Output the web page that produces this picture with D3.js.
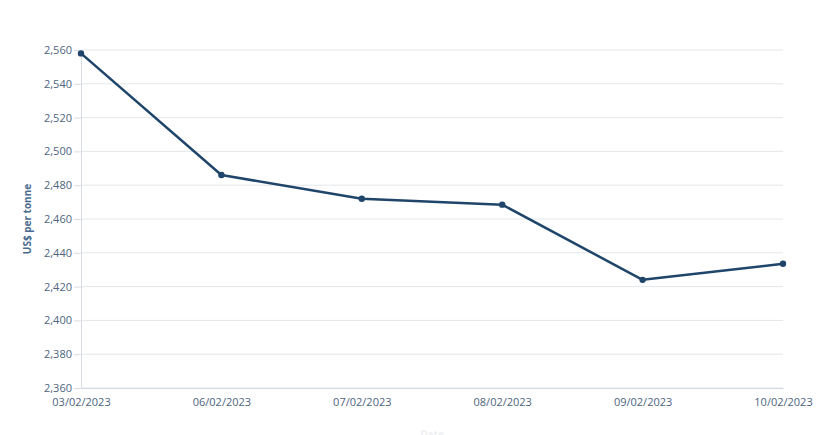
<!DOCTYPE html>
<html>
<head>
<meta charset="utf-8">
<script src="https://cdn.jsdelivr.net/npm/d3@7"></script>
<style>
  body { margin: 0; background: #fff; }
  text { font-family: "Open Sans", sans-serif; }
</style>
</head>
<body>
<div id="chart"></div>
<script>
var width = 824
var height = 435

// data
const dates = ["03/02/2023", "06/02/2023", "07/02/2023", "08/02/2023", "09/02/2023", "10/02/2023"];
const prices = [2558, 2486, 2472, 2468.5, 2424, 2433.5];
const yTicks = [2360, 2380, 2400, 2420, 2440, 2460, 2480, 2500, 2520, 2540, 2560];

const margin = {top: 50, right: 41, bottom: 47, left: 81}
const innerWidth = width - margin.left - margin.right;
const innerHeight = height - margin.top - margin.bottom;

var svg = d3.select("#chart").append("svg")
    .attr("width", width)
    .attr("height", height)

const g = svg.append("g")
    .attr("transform", `translate(${margin.left}, ${margin.top})`)

const xScale = d3.scalePoint()
    .domain(dates)
    .range([0, innerWidth]);

const yScale = d3.scaleLinear()
    .domain([2360, 2560])
    .range([innerHeight, 0]);

// horizontal grid
g.append("g")
    .selectAll("line")
    .data(yTicks)
    .join("line")
    .attr("x1", 0)
    .attr("x2", innerWidth)
    .attr("y1", d => yScale(d))
    .attr("y2", d => yScale(d))
    .attr("stroke", "#e3e6ea")
    .attr("stroke-width", 1);

const yAxis = d3.axisLeft(yScale)
    .tickValues(yTicks)
    .tickSize(7)
    .tickPadding(2)
    .tickFormat(d3.format(","));

const yAxisG = g.append("g").call(yAxis);
yAxisG.select(".domain").attr("stroke", "#d9dde3");
yAxisG.selectAll(".tick line").attr("stroke", "#d9dde3");
yAxisG.selectAll("text")
    .attr("fill", "#4d6580")
    .style("font-size", "11px");

const xAxis = d3.axisBottom(xScale).tickSize(0).tickPadding(10);
const xAxisG = g.append("g")
    .attr("transform", `translate(0, ${innerHeight})`)
    .call(xAxis);
xAxisG.select(".domain").attr("stroke", "#d3d8de");
xAxisG.selectAll("text")
    .attr("fill", "#4d6580")
    .style("font-size", "11px");

svg.append("text")
    .attr("transform", `translate(31, ${margin.top + innerHeight / 2}) rotate(-90)`)
    .attr("text-anchor", "middle")
    .attr("fill", "#4a6b8f")
    .style("font-size", "10px")
    .style("font-weight", "bold")
    .text("US$ per tonne");

svg.append("text")
    .attr("x", 432)
    .attr("y", 438)
    .attr("text-anchor", "middle")
    .attr("fill", "#eef0f2")
    .style("font-size", "10px")
    .style("font-weight", "bold")
    .text("Date");

const line = d3.line()
    .x((d, i) => xScale(dates[i]))
    .y(d => yScale(d));

g.append("path")
    .attr("d", line(prices))
    .attr("fill", "none")
    .attr("stroke", "#1f456b")
    .attr("stroke-width", 2.5)
    .attr("stroke-linejoin", "round");

g.selectAll("circle")
    .data(prices)
    .join("circle")
    .attr("cx", (d, i) => xScale(dates[i]))
    .attr("cy", d => yScale(d))
    .attr("r", 3.2)
    .attr("fill", "#1f456b");
</script>
</body>
</html>
